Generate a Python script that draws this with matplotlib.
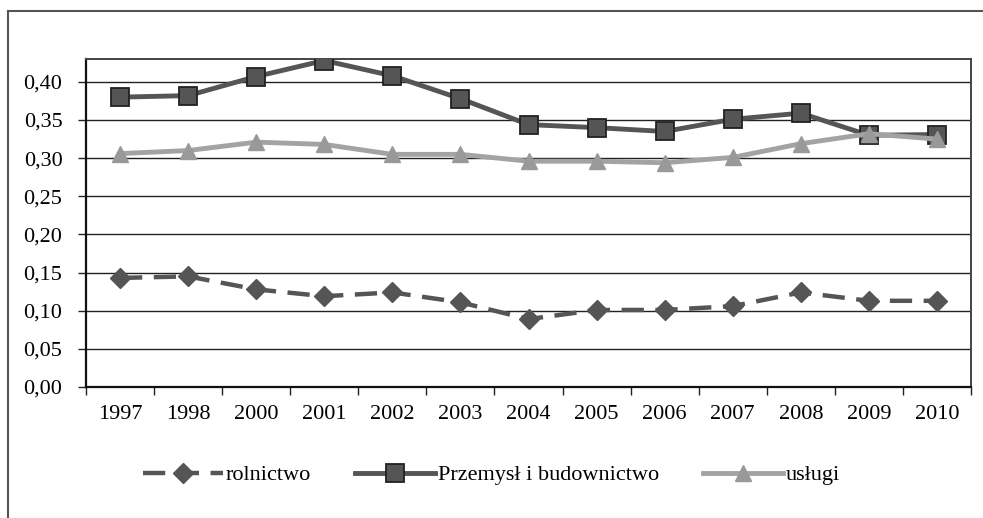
import numpy as np
import matplotlib
matplotlib.use('Agg')
from matplotlib import pyplot as plt
from matplotlib.lines import Line2D

plt.rcParams['font.family'] = ['Liberation Serif', 'DejaVu Serif']
plt.rcParams['font.size'] = 16

# data
years = ['1997', '1998', '2000', '2001', '2002', '2003', '2004',
         '2005', '2006', '2007', '2008', '2009', '2010']
rolnictwo = [0.143, 0.145, 0.128, 0.119, 0.124, 0.111, 0.089,
             0.101, 0.101, 0.106, 0.124, 0.113, 0.113]
przemysl = [0.380, 0.382, 0.407, 0.428, 0.408, 0.378, 0.344,
            0.340, 0.335, 0.351, 0.359, 0.330, 0.331]
uslugi = [0.306, 0.310, 0.321, 0.318, 0.305, 0.305, 0.296,
          0.296, 0.294, 0.301, 0.319, 0.332, 0.325]
yticks = [0.0, 0.05, 0.10, 0.15, 0.20, 0.25, 0.30, 0.35, 0.40]

fig = plt.figure(figsize=(9.83, 5.18), dpi=100)
ax = fig.add_axes([86/983, 1-387/518, (971-86)/983, (387-59)/518])

x = np.arange(len(years))

# gridlines
for t in yticks[1:]:
    ax.axhline(t, color='#222222', lw=1.0, zorder=1)

l1, = ax.plot(x, rolnictwo, color='#555555', lw=3.2, dashes=(5, 2.6),
              marker='D', ms=10, mfc='#555555', mec='#555555', zorder=3,
              label='rolnictwo')
l2, = ax.plot(x, przemysl, color='#555555', lw=3.5, marker='s', ms=13,
              mfc='#555555', mec='#222222', mew=1.3, zorder=4,
              label='Przemysł i budownictwo')
l3, = ax.plot(x, uslugi, color='#a3a3a3', lw=3.5, marker='^', ms=12,
              mfc='#999999', mec='#999999', zorder=5, label='usługi')

ax.set_xlim(-0.5, len(years) - 0.5)
ax.set_ylim(0, 0.43)
ax.set_yticks(yticks)
ax.set_yticklabels([('%.2f' % t).replace('.', ',') for t in yticks])
ax.set_xticks(x)
ax.set_xticklabels(years)
ax.set_xticks(np.arange(-0.5, len(years), 1.0), minor=True)
ax.tick_params(axis='x', which='major', length=0, pad=13)
ax.tick_params(axis='x', which='minor', length=6, width=1, color='#222222')
ax.tick_params(axis='y', length=6, width=1, color='#222222', pad=11)
for s in ['left', 'bottom']:
    ax.spines[s].set_color('#111111')
    ax.spines[s].set_linewidth(1.6)
for s in ['top', 'right']:
    ax.spines[s].set_color('#444444')
    ax.spines[s].set_linewidth(1.4)

# outer frame (cropped on right and bottom)
fig.add_artist(Line2D([8/983, 1], [1-11/518, 1-11/518], color='#555555', lw=1.5))
fig.add_artist(Line2D([8/983, 8/983], [0, 1-11/518], color='#555555', lw=1.5))

fig.legend(handles=[l1, l2, l3], loc='center', ncol=3,
           bbox_to_anchor=(0.5, 1-475/518), frameon=False,
           handlelength=3.6, handletextpad=0.1, columnspacing=2.0,
           fontsize=16)

fig.savefig('out.png', dpi=100)
